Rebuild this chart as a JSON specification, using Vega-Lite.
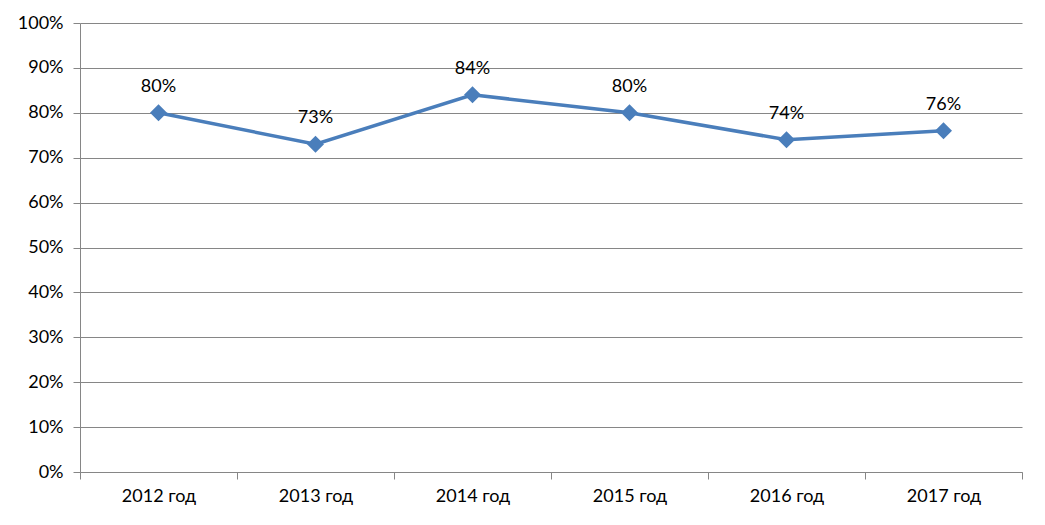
{
  "$schema": "https://vega.github.io/schema/vega-lite/v6.json",
  "width": 942,
  "height": 449,
  "autosize": "none",
  "padding": {"left": 80, "top": 23, "right": 23, "bottom": 53},
  "background": "white",
  "config": {
    "view": {"stroke": null},
    "font": "Lato",
    "axis": {"labelFont": "Lato", "labelFontSize": 18, "labelColor": "#000000", "domainColor": "#868686", "tickColor": "#868686", "gridColor": "#868686", "domainWidth": 1, "tickSize": 7, "labelOverlap": false, "labelBound": false}
  },
  "data": {
    "values": [
      {"year": "2012 год", "value": 0.80},
      {"year": "2013 год", "value": 0.73},
      {"year": "2014 год", "value": 0.84},
      {"year": "2015 год", "value": 0.80},
      {"year": "2016 год", "value": 0.74},
      {"year": "2017 год", "value": 0.76}
    ]
  },
  "encoding": {
    "x": {
      "field": "year", "type": "nominal", "sort": null,
      "scale": {"paddingInner": 0, "paddingOuter": 0},
      "axis": {"title": null, "labelAngle": 0, "tickBand": "extent", "grid": false, "labelPadding": 8}
    },
    "y": {
      "field": "value", "type": "quantitative",
      "scale": {"domain": [0, 1], "nice": false},
      "axis": {"title": null, "format": ".0%", "values": [0,0.1,0.2,0.3,0.4,0.5,0.6,0.7,0.8,0.9,1], "grid": true, "labelPadding": 10, "domain": true}
    }
  },
  "layer": [
    {"mark": {"type": "line", "color": "#4a7ebb", "strokeWidth": 3.5}},
    {"mark": {"type": "point", "shape": "diamond", "filled": true, "size": 290, "color": "#4a7ebb", "opacity": 1}},
    {"mark": {"type": "text", "baseline": "alphabetic", "dy": -21, "fontSize": 18, "font": "Lato", "color": "#000000"},
     "encoding": {"text": {"field": "value", "format": ".0%"}}}
  ]
}
